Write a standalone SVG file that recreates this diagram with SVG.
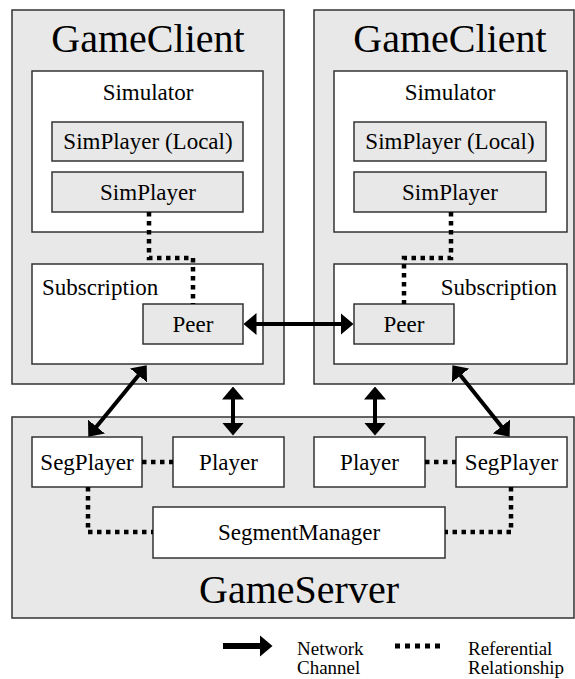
<svg xmlns="http://www.w3.org/2000/svg" width="575" height="679" viewBox="0 0 575 679">
<style>
text{font-family:Liberation Serif,serif;fill:#000}
.big{font-size:40px;text-anchor:middle}
.lbl{font-size:23px;text-anchor:middle}
.leg{font-size:19px}
.outer{fill:#e8e8e8;stroke:#333;stroke-width:1.5}
.white{fill:#fff;stroke:#333;stroke-width:1.5}
.gray{fill:#e8e8e8;stroke:#333;stroke-width:1.5}
.net{stroke:#000;stroke-width:4;fill:none;marker-start:url(#ah);marker-end:url(#ah)}
.ref{stroke:#000;stroke-width:4.5;fill:none;stroke-dasharray:4.5 4.5}
</style>
<defs>
<marker id="ah" viewBox="0 0 13 22" markerWidth="13" markerHeight="22" markerUnits="userSpaceOnUse" refX="0.5" refY="11" orient="auto-start-reverse">
<path d="M0,0 L13,11 L0,22 Z" fill="#000"/>
</marker>
<marker id="ah1" viewBox="0 0 13 22" markerWidth="13" markerHeight="22" markerUnits="userSpaceOnUse" refX="0.5" refY="11" orient="auto">
<path d="M0,0 L13,11 L0,22 Z" fill="#000"/>
</marker>
</defs>

<g id="gameclient-left">
<rect class="outer" x="12" y="10" width="272" height="374"/>
<text class="big" x="148" y="52" font-family="Liberation Serif">GameClient</text>
</g>
<g id="simulator-left">
<rect class="white" x="32" y="71" width="231" height="161"/>
<text class="lbl" x="148" y="100" font-family="Liberation Serif">Simulator</text>
</g>
<g id="simplayer-local-left">
<rect class="gray" x="52" y="122" width="191" height="39"/>
<text class="lbl" x="148" y="149" font-family="Liberation Serif">SimPlayer (Local)</text>
</g>
<g id="simplayer-left">
<rect class="gray" x="52" y="172" width="191" height="40"/>
<text class="lbl" x="148" y="200" font-family="Liberation Serif">SimPlayer</text>
</g>
<g id="subscription-left">
<rect class="white" x="32" y="264" width="231" height="100"/>
<text class="lbl" x="42" y="295" style="text-anchor:start" font-family="Liberation Serif">Subscription</text>
</g>
<g id="peer-left">
<rect class="gray" x="143" y="304" width="100" height="40"/>
<text class="lbl" x="193" y="332" font-family="Liberation Serif">Peer</text>
</g>

<g id="gameclient-right">
<rect class="outer" x="314" y="10" width="260" height="374"/>
<text class="big" x="450" y="52" font-family="Liberation Serif">GameClient</text>
</g>
<g id="simulator-right">
<rect class="white" x="334" y="71" width="233" height="161"/>
<text class="lbl" x="450" y="100" font-family="Liberation Serif">Simulator</text>
</g>
<g id="simplayer-local-right">
<rect class="gray" x="354" y="122" width="192" height="39"/>
<text class="lbl" x="450" y="149" font-family="Liberation Serif">SimPlayer (Local)</text>
</g>
<g id="simplayer-right">
<rect class="gray" x="354" y="172" width="192" height="40"/>
<text class="lbl" x="450" y="200" font-family="Liberation Serif">SimPlayer</text>
</g>
<g id="subscription-right">
<rect class="white" x="334" y="264" width="233" height="100"/>
<text class="lbl" x="557" y="295" style="text-anchor:end" font-family="Liberation Serif">Subscription</text>
</g>
<g id="peer-right">
<rect class="gray" x="354" y="304" width="100" height="40"/>
<text class="lbl" x="404" y="332" font-family="Liberation Serif">Peer</text>
</g>

<g id="gameserver">
<rect class="outer" x="12" y="417" width="562" height="201"/>
<text class="big" x="299" y="603" font-family="Liberation Serif">GameServer</text>
</g>
<g id="segplayer-left">
<rect class="white" x="32" y="437" width="110" height="50"/>
<text class="lbl" x="87" y="470" font-family="Liberation Serif">SegPlayer</text>
</g>
<g id="player-left">
<rect class="white" x="173" y="437" width="111" height="50"/>
<text class="lbl" x="228.5" y="470" font-family="Liberation Serif">Player</text>
</g>
<g id="player-right">
<rect class="white" x="314" y="437" width="111" height="50"/>
<text class="lbl" x="369.5" y="470" font-family="Liberation Serif">Player</text>
</g>
<g id="segplayer-right">
<rect class="white" x="456" y="437" width="111" height="50"/>
<text class="lbl" x="511.5" y="470" font-family="Liberation Serif">SegPlayer</text>
</g>
<g id="segmentmanager">
<rect class="white" x="153" y="507" width="292" height="51"/>
<text class="lbl" x="299" y="540" font-family="Liberation Serif">SegmentManager</text>
</g>

<g id="connectors">
<path class="ref" d="M149,212 V258 H193 V304"/>
<path class="ref" d="M451,212 V258 H404 V304"/>
<path class="ref" d="M142,462 H173"/>
<path class="ref" d="M425,462 H456"/>
<path class="ref" d="M88,487 V532 H153"/>
<path class="ref" d="M511,487 V532 H445"/>
<line class="net" x1="256" y1="324" x2="341" y2="324"/>
<line class="net" x1="233" y1="399" x2="233" y2="423"/>
<line class="net" x1="375" y1="399" x2="375" y2="423"/>
<line class="net" x1="138.8" y1="375" x2="96.2" y2="427"/>
<line class="net" x1="460.2" y1="375.1" x2="501.8" y2="426.9"/>
</g>

<g id="legend">
<line x1="223" y1="646" x2="260" y2="646" stroke="#000" stroke-width="6" marker-end="url(#ah1)"/>
<text class="leg" x="297" y="655" font-family="Liberation Serif">Network</text>
<text class="leg" x="297" y="674" font-family="Liberation Serif">Channel</text>
<line x1="395" y1="646" x2="441" y2="646" stroke="#000" stroke-width="5" stroke-dasharray="5 5"/>
<text class="leg" x="468" y="655" font-family="Liberation Serif">Referential</text>
<text class="leg" x="468" y="674" font-family="Liberation Serif">Relationship</text>
</g>
</svg>
